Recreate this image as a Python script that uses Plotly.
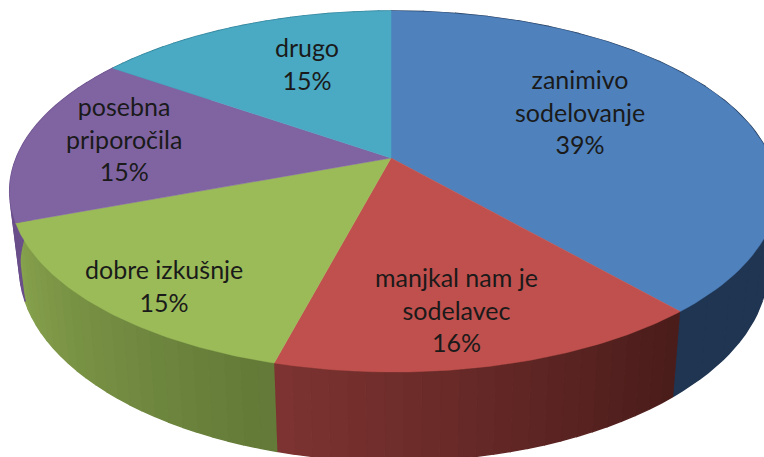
import numpy as np
import plotly.graph_objects as go

categories = ["zanimivo<br>sodelovanje", "manjkal nam je<br>sodelavec", "dobre izkušnje", "posebna<br>priporočila", "drugo"]
values = [38.6, 15.5, 15.2, 15.4, 15.3]

colors = ["#4F81BD", "#C0504D", "#9BBB59", "#8064A2", "#4AA9C3"]
wall_start = ["#1F3552", "#4A1D1B", "#637A38", "#6A4F8A", "#2F7F95"]
wall_end = ["#1F3552", "#7D3331", "#87A24D", "#6A4F8A", "#2F7F95"]
label_x = [580, 456, 164, 124, 307]
label_y = [111.5, 309, 285.5, 138, 63]

# perspective of the tilted pie in page pixels
APEX_X, APEX_Y = 391, 158
SCALE_X, SCALE_Y = 377, 174.3
TILT, SKEW = 0.1856, 0.006


def top(t):
    X, Y = np.sin(t), -np.cos(t)
    w = 1 - TILT * Y - SKEW * X
    return APEX_X + SCALE_X * X / w, APEX_Y + SCALE_Y * Y / w


def bottom(x, y):
    return 403 + 0.975 * (x - 403), 1.07 * y + 63


def rgb(c):
    return np.array([int(c[i:i + 2], 16) for i in (1, 3, 5)], float)


fig = go.Figure()
total = sum(values)
start = 0
for i, v in enumerate(values):
    a0 = 2 * np.pi * start / total
    a1 = 2 * np.pi * (start + v) / total
    n = 24
    edges = np.linspace(a0, a1, n + 1)
    for k in range(n):
        f = k / (n - 1)
        c = (1 - f) * rgb(wall_start[i]) + f * rgb(wall_end[i])
        col = "rgb(%d,%d,%d)" % tuple(c)
        tt = np.linspace(edges[k], edges[k + 1], 4)
        tx, ty = top(tt)
        bx, by = bottom(tx, ty)
        fig.add_trace(go.Scatter(x=list(tx) + list(bx[::-1]), y=list(ty) + list(by[::-1]), fill="toself",
                                 fillcolor=col, mode="lines", line=dict(color=col, width=1.5), hoverinfo="skip"))
    start += v
start = 0
for i, v in enumerate(values):
    tt = np.linspace(2 * np.pi * start / total, 2 * np.pi * (start + v) / total, 90)
    tx, ty = top(tt)
    fig.add_trace(go.Scatter(x=[APEX_X] + list(tx) + [APEX_X], y=[APEX_Y] + list(ty) + [APEX_Y], fill="toself",
                             fillcolor=colors[i], mode="lines", line=dict(color=colors[i], width=0.5), hoverinfo="skip"))
    fig.add_annotation(x=label_x[i], y=label_y[i], text=f"{categories[i]}<br>{round(v)}%", showarrow=False,
                       font=dict(family="Lato", size=25, color="#1a1a1a"), align="center")
    start += v
fig.update_layout(width=764, height=457, margin=dict(l=0, r=0, t=0, b=0), showlegend=False,
                  paper_bgcolor="white", plot_bgcolor="white",
                  xaxis=dict(range=[0, 764], visible=False), yaxis=dict(range=[457, 0], visible=False))
fig.write_html("out.html", post_script="document.body.style.margin='0';", config={"displayModeBar": False})
